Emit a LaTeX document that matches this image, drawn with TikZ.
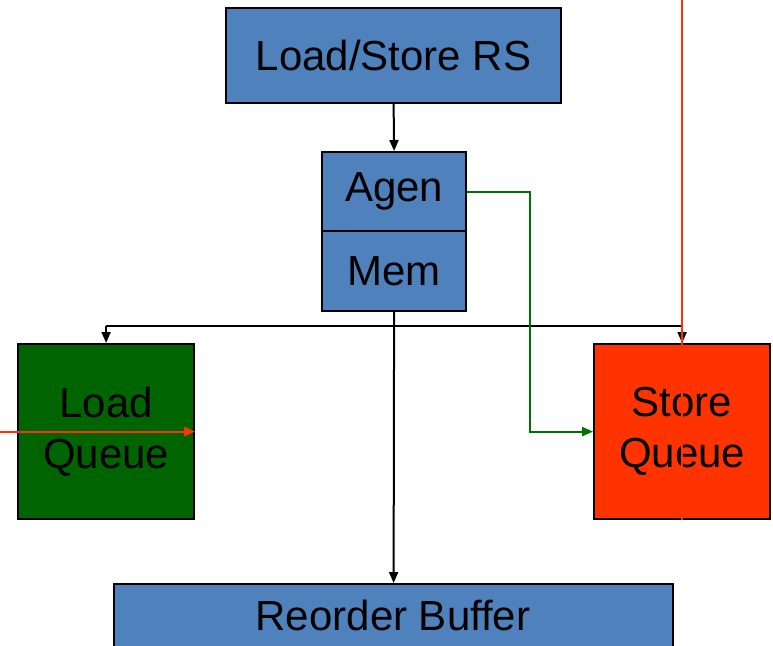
\documentclass[tikz,border=0pt]{standalone}
\usepackage{fontspec}
\setmainfont{Liberation Sans}
\usetikzlibrary{arrows.meta}
\definecolor{boxblue}{HTML}{4F81BD}
\definecolor{lqgreen}{HTML}{006400}
\definecolor{sqred}{HTML}{FF3300}
\definecolor{wiregreen}{HTML}{007000}
\begin{document}
\begin{tikzpicture}[x=1pt,y=-1pt,
  unit/.style={draw=black,line width=2.2pt,minimum width=#1,inner sep=0pt,
    font=\fontsize{42}{51}\selectfont,align=center,anchor=north west},
  wire/.style={line width=2pt,-{Triangle[length=11pt,width=9pt]}}]
\useasboundingbox (0,0) rectangle (773,645);
\fill[white] (0,0) rectangle (773,645);

% pipeline units
\node[unit=335pt,minimum height=95pt,fill=boxblue] (rs) at (225,7) {Load/Store RS};
\node[unit=144pt,minimum height=79pt,fill=boxblue] (agen) at (321,151) {Agen};
\node[unit=144pt,minimum height=80pt,fill=boxblue] (mem) at (321,230) {Mem};
\node[unit=176pt,minimum height=175pt,fill=lqgreen] (lq) at (17,343) {Load\\Queue};
\node[unit=176pt,minimum height=175pt,fill=sqred] (sq) at (593,343) {Store\\Queue};
\begin{scope}
  \clip (0,0) rectangle (773,645);
  \node[unit=559pt,minimum height=80pt,fill=boxblue] (rob) at (113,583) {};
\end{scope}
\node[font=\fontsize{42}{51}\selectfont] (robtext) at (393,615) {Reorder Buffer};

% result bus out of Mem
\coordinate (busL) at (lq.north |- 0,326);
\coordinate (busR) at (sq.north |- 0,326);
\draw[line width=2pt] (busL) -- (busR);
\draw[wire] (rs.south) -- (agen.north);
\draw[wire] (mem.south) -- (rob.north);
\draw[wire] (busL) -- (lq.north);
\draw[wire] (busR) -- (sq.north);

% address path into the store queue
\draw[wire,wiregreen] (agen.east) -- ++(63,0) |- (sq.west);

% incoming red signals
\coordinate (redtop) at (sq.north |- 0,0);
\coordinate (redleft) at (0,0 |- lq.east);
\draw[line width=2pt,sqred] (redtop) -- (sq.south);
\draw[wire,sqred] (redleft) -- (lq.east);
\end{tikzpicture}
\end{document}
